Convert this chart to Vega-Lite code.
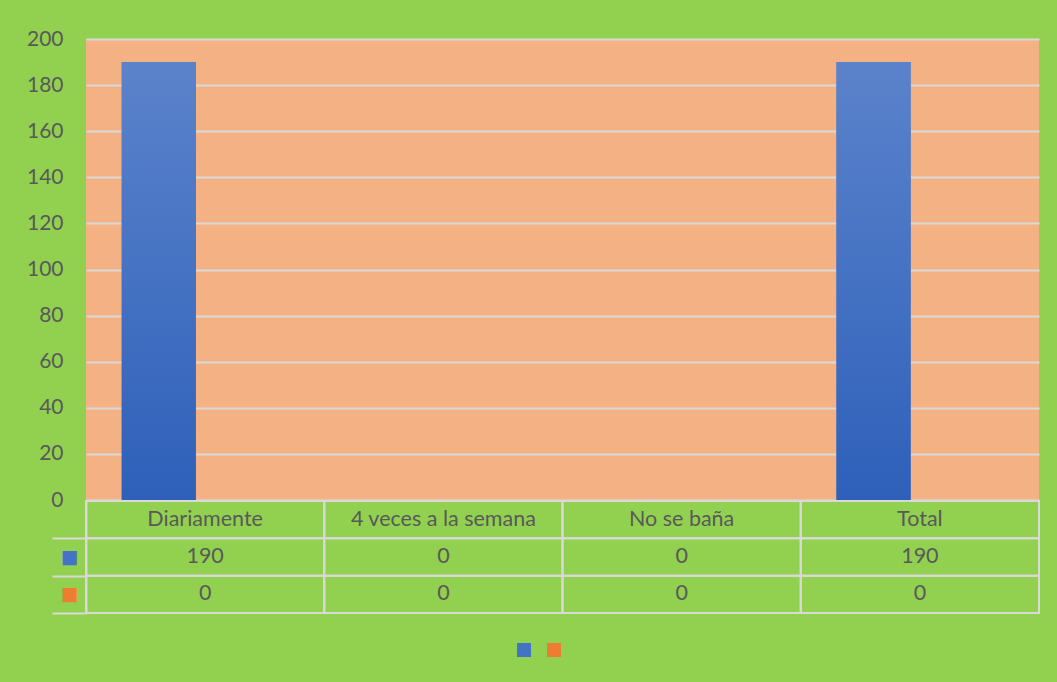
{
  "$schema": "https://vega.github.io/schema/vega-lite/v6.json",
  "background": "#92D050",
  "padding": {"left": 26, "top": 28, "right": 25, "bottom": 30},
  "bounds": "flush",
  "config": {
    "font": "Lato",
    "view": {"stroke": null},
    "axis": {"labelFont": "Lato", "labelColor": "#595959"}
  },
  "data": {
    "values": [
      {"categoria": "Diariamente", "serie": "s1", "valor": 190},
      {"categoria": "Diariamente", "serie": "s2", "valor": 0},
      {"categoria": "4 veces a la semana", "serie": "s1", "valor": 0},
      {"categoria": "4 veces a la semana", "serie": "s2", "valor": 0},
      {"categoria": "No se baña", "serie": "s1", "valor": 0},
      {"categoria": "No se baña", "serie": "s2", "valor": 0},
      {"categoria": "Total", "serie": "s1", "valor": 190},
      {"categoria": "Total", "serie": "s2", "valor": 0}
    ]
  },
  "spacing": 1,
  "vconcat": [
    {
      "width": 953,
      "height": 461,
      "view": {"fill": "#F4B183", "stroke": null},
      "encoding": {
        "x": {
          "field": "categoria", "type": "nominal",
          "sort": ["Diariamente", "4 veces a la semana", "No se baña", "Total"],
          "scale": {"paddingInner": 0.3, "paddingOuter": 0.15},
          "axis": null
        },
        "xOffset": {"field": "serie", "type": "nominal", "scale": {"paddingInner": 0.2, "paddingOuter": 0}},
        "y": {
          "field": "valor", "type": "quantitative",
          "scale": {"domain": [0, 200], "nice": false},
          "axis": {
            "title": null, "values": [0, 20, 40, 60, 80, 100, 120, 140, 160, 180, 200],
            "domain": false, "ticks": false, "tickSize": 0, "labelPadding": 23,
            "labelFontSize": 21, "gridColor": "#D9D9D9", "gridWidth": 2
          }
        }
      },
      "layer": [
        {
          "mark": {"type": "bar"},
          "encoding": {
            "color": {
              "field": "serie", "type": "nominal",
              "scale": {"domain": ["s1", "s2"], "range": ["#4472C4", "#ED7D31"]},
              "legend": {
                "orient": "none", "direction": "horizontal", "legendX": 431, "legendY": 604,
                "title": null, "symbolType": "square", "symbolSize": 196, "symbolStrokeWidth": 0,
                "labelExpr": "''", "labelOffset": 0, "columnPadding": 16
              }
            }
          }
        },
        {
          "transform": [{"filter": "datum.serie == 's1'"}],
          "mark": {
            "type": "bar",
            "color": {
              "gradient": "linear", "x1": 0, "y1": 0, "x2": 0, "y2": 1,
              "stops": [{"offset": 0, "color": "#5B83CB"}, {"offset": 1, "color": "#2E60BA"}]
            }
          }
        }
      ]
    },
    {
      "width": 953,
      "height": 112,
      "view": {"stroke": null},
      "encoding": {
        "x": {
          "field": "categoria", "type": "nominal",
          "sort": ["Diariamente", "4 veces a la semana", "No se baña", "Total"],
          "scale": {"paddingInner": 0, "paddingOuter": 0},
          "axis": null
        }
      },
      "layer": [
        {
          "mark": {"type": "rect", "filled": false, "color": "#D9D9D9", "strokeWidth": 2},
          "encoding": {
            "y": {
              "field": "serie", "type": "nominal",
              "scale": {"domain": ["hdr", "s1", "s2"], "paddingInner": 0, "paddingOuter": 0},
              "axis": {
                "title": null, "values": ["s1", "s2"],
                "domain": true, "domainColor": "#D9D9D9", "domainWidth": 2,
                "ticks": true, "tickBand": "extent", "tickSize": 34, "tickWidth": 2, "tickColor": "#D9D9D9",
                "labelExpr": "datum.value == 's1' || datum.value == 's2' ? '■' : ''",
                "labelColor": {"expr": "datum.value == 's1' ? '#4472C4' : '#ED7D31'"},
                "labelFontSize": 29, "labelAlign": "center", "labelBaseline": "middle", "labelPadding": -17
              }
            }
          }
        },
        {
          "transform": [{"filter": "datum.serie == 's1'"}],
          "mark": {"type": "rect", "filled": false, "color": "#D9D9D9", "strokeWidth": 2},
          "encoding": {"y": {"datum": "hdr"}}
        },
        {
          "mark": {"type": "text", "fontSize": 21.5, "color": "#595959", "font": "Lato"},
          "encoding": {
            "y": {"field": "serie", "type": "nominal"},
            "text": {"field": "valor", "type": "quantitative"}
          }
        },
        {
          "transform": [{"filter": "datum.serie == 's1'"}],
          "mark": {"type": "text", "fontSize": 21.5, "color": "#595959", "font": "Lato"},
          "encoding": {
            "y": {"datum": "hdr"},
            "text": {"field": "categoria", "type": "nominal"}
          }
        }
      ]
    }
  ]
}
